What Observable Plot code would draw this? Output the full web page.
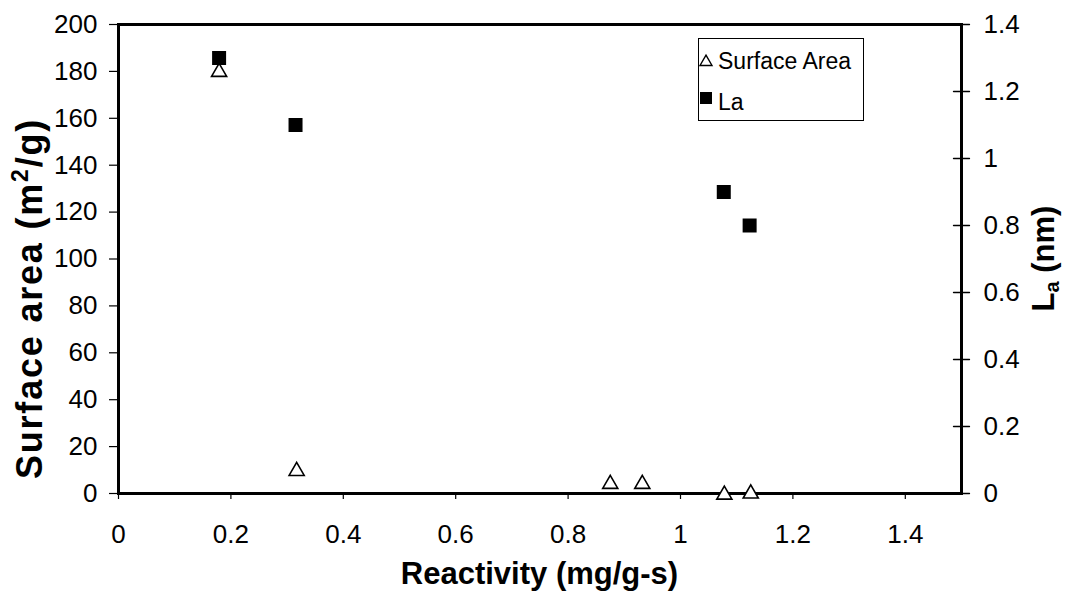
<!DOCTYPE html>
<html><head><meta charset="utf-8">
<script src="https://cdn.jsdelivr.net/npm/d3@7"></script>
<script src="https://cdn.jsdelivr.net/npm/@observablehq/plot@0.6"></script>
<style>body{margin:0;background:#fff}#chart{width:1066px;height:595px}</style>
</head><body><div id="chart"></div>
<script>
// Data
const reactivitySA = [0.179, 0.317, 0.875, 0.932, 1.078, 1.125];
const surfaceArea  = [180.6, 10.4, 4.9, 4.9, 0.3, 0.8];
const reactivityLa = [0.179, 0.315, 1.077, 1.123];
const laValues     = [1.30, 1.10, 0.90, 0.80];
const xTicks  = [0, 0.2, 0.4, 0.6, 0.8, 1, 1.2, 1.4];
const yTicks  = [0, 20, 40, 60, 80, 100, 120, 140, 160, 180, 200];
const laTicks = [0, 0.2, 0.4, 0.6, 0.8, 1, 1.2, 1.4];
const seriesNames = ["Surface Area", "La"];

const saMax = 200, laMax = 1.4, k = saMax / laMax;
const FONT = "'Liberation Sans', Arial, Helvetica, sans-serif";

const saData = reactivitySA.map((x, i) => ({x, y: surfaceArea[i]}));
const laData = reactivityLa.map((x, i) => ({x, y: laValues[i] * k}));
const laTickPos = laTicks.map(v => v * k);

const plot = Plot.plot({
  width: 1066, height: 595,
  marginLeft: 118, marginRight: 105, marginTop: 24, marginBottom: 102,
  style: {fontFamily: FONT, fontSize: "26px", color: "#000", background: "#fff"},
  x: {domain: [0, 1.5]},
  y: {domain: [0, saMax]},
  marks: [
    Plot.axisX(xTicks, {anchor: "bottom", tickSize: 6, tickPadding: 25, label: null, tickFormat: d => String(d), fontSize: 26, strokeWidth: 1.2}),
    Plot.axisY(yTicks, {anchor: "left", tickSize: 9, tickPadding: 12, label: null, tickFormat: d => String(d), fontSize: 26, strokeWidth: 1.2}),
    // right-axis ticks crossing the axis line
    Plot.vector(laTickPos, {y: d => d, frameAnchor: "right", rotate: 90, length: 16, anchor: "middle",
      shape: {draw(ctx, l) { ctx.moveTo(0, 0); ctx.lineTo(0, -l); }},
      stroke: "#000", strokeWidth: 1.3}),
    Plot.axisY(laTickPos, {anchor: "right", tickSize: 0, tickPadding: 22, label: null, fontSize: 26,
      tickFormat: v => String(Math.round(v / k * 10) / 10)}),
    Plot.frame({stroke: "#000", strokeWidth: 3}),
    Plot.dot(saData, {x: "x", y: "y", symbol: "triangle", r: 5.6, dy: 2, stroke: "#000", strokeWidth: 1.6, fill: "#fff"}),
    Plot.dot(laData, {x: "x", y: "y", symbol: "square", r: 7.9, fill: "#000", stroke: "none"})
  ]
});
document.getElementById("chart").appendChild(plot);

const svg = d3.select(plot);
const [x0, x1] = plot.scale("x").range;
const [yb, yt] = plot.scale("y").range;
const cx = (x0 + x1) / 2, cy = (yb + yt) / 2;

const titles = svg.append("g").attr("font-family", FONT).attr("font-weight", "bold").attr("fill", "#000");
titles.append("text").attr("x", cx).attr("y", 584).attr("text-anchor", "middle")
  .attr("font-size", 31).text("Reactivity (mg/g-s)");

const lt = titles.append("text").attr("transform", `translate(42,${cy + 40}) rotate(-90)`)
  .attr("text-anchor", "middle").attr("font-size", 36).attr("letter-spacing", 1.8);
lt.append("tspan").text("Surface area (m");
lt.append("tspan").attr("font-size", 23).attr("dy", -14).text("2");
lt.append("tspan").attr("dy", 14).text("/g)");

const rt = titles.append("text").attr("transform", `translate(1054,${cy}) rotate(-90)`)
  .attr("text-anchor", "middle").attr("font-size", 31);
rt.append("tspan").text("L");
rt.append("tspan").attr("font-size", 20).attr("dy", 5).text("a");
rt.append("tspan").attr("dy", -5).text(" (nm)");

// Legend
const lg = svg.append("g").attr("font-family", FONT).attr("font-size", 23).attr("fill", "#000").attr("text-anchor", "start");
lg.append("rect").attr("x", 698.5).attr("y", 38.5).attr("width", 165).attr("height", 82)
  .attr("fill", "#fff").attr("stroke", "#000").attr("stroke-width", 1);
lg.append("path").attr("d", d3.symbol(d3.symbolTriangle, 62)()).attr("transform", "translate(706,62)")
  .attr("fill", "#fff").attr("stroke", "#000").attr("stroke-width", 1.4);
lg.append("rect").attr("x", 700).attr("y", 92).attr("width", 12).attr("height", 12).attr("fill", "#000");
lg.append("text").attr("x", 718).attr("y", 69).attr("text-anchor", "start").text(seriesNames[0]);
lg.append("text").attr("x", 718).attr("y", 110).attr("text-anchor", "start").text(seriesNames[1]);
</script>
</body></html>
